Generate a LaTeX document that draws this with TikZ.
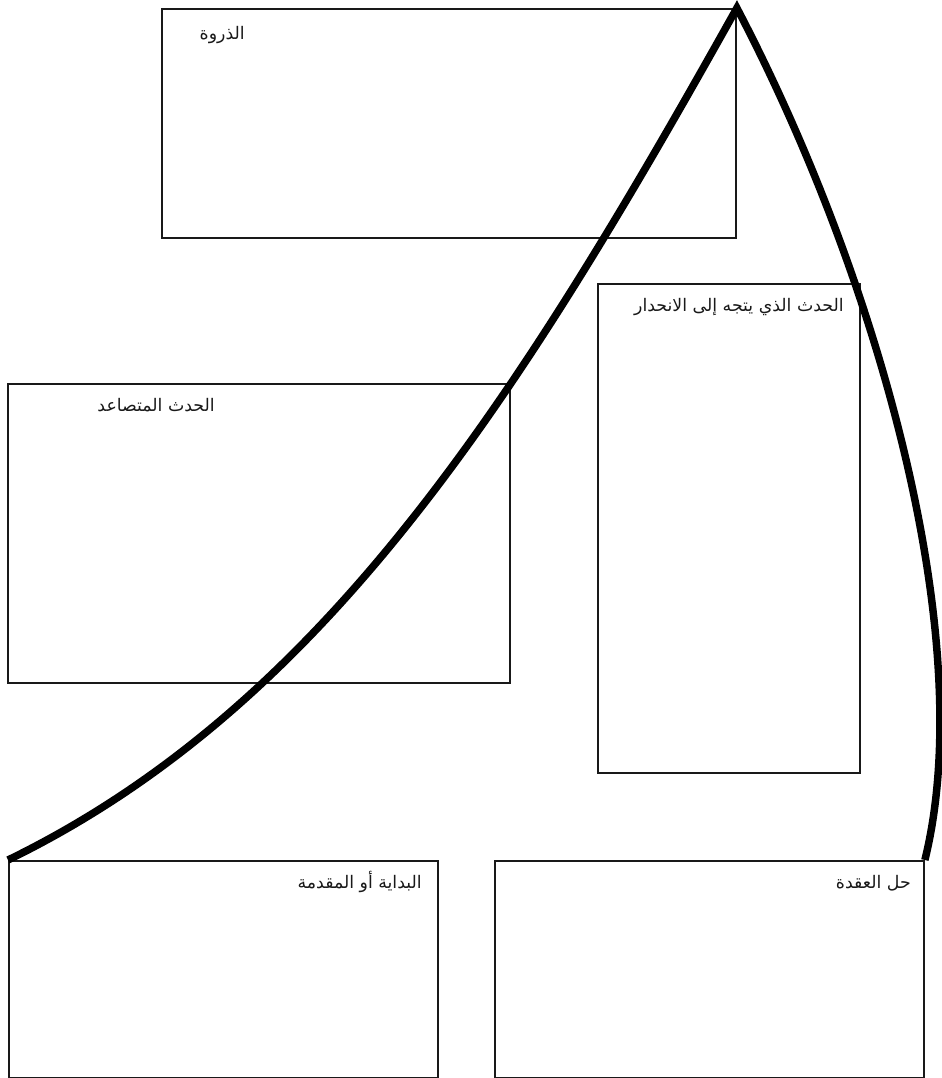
\documentclass[tikz,border=0pt]{standalone}
\usepackage{fontspec}
\newfontfamily\arabicfont[Script=Arabic]{DejaVu Sans}
\TeXXeTstate=1
\begin{document}
\begin{tikzpicture}[x=0.75pt,y=-0.75pt,
  box/.style={draw=black!90, line width=1.4pt, inner sep=0pt, anchor=north west},
  lbl/.style={anchor=east, inner sep=0pt, text=black!90, font=\arabicfont\fontsize{13}{15}\selectfont},
  arcline/.style={line width=5.6pt, line join=miter, line cap=butt}]
\useasboundingbox (0,0) rectangle (942,1078);
% boxes
\node[box, minimum width=574*0.75pt, minimum height=229*0.75pt] (climax) at (161,8) {};
\node[box, minimum width=262*0.75pt, minimum height=489*0.75pt] (falling) at (597,283) {};
\node[box, minimum width=502*0.75pt, minimum height=299*0.75pt] (rising) at (7,383) {};
\node[box, minimum width=429*0.75pt, minimum height=217*0.75pt] (expo) at (8,860) {};
\node[box, minimum width=429*0.75pt, minimum height=217*0.75pt] (resol) at (494,860) {};
% labels
\node[lbl] (tclimax) at (245,35) {\beginR الذروة\endR};
\node[lbl] (tfalling) at (844,307) {\beginR الحدث الذي يتجه إلى الانحدار\endR};
\node[lbl] (trising) at (215,405) {\beginR الحدث المتصاعد\endR};
\node[lbl] (texpo) at (422,882) {\beginR البداية أو المقدمة\endR};
\node[lbl] (tresol) at (911,883) {\beginR حل العقدة\endR};
% plot curve
\coordinate (start) at (expo.north west);
\coordinate (apex) at (climax.north east);
\coordinate (end) at (resol.north east);
\draw[arcline] (start) .. controls (322.6,706.7) and (516.8,401.75) .. (apex)
  .. controls (876,273.5) and (980,636.9) .. (end);
\end{tikzpicture}
\end{document}
